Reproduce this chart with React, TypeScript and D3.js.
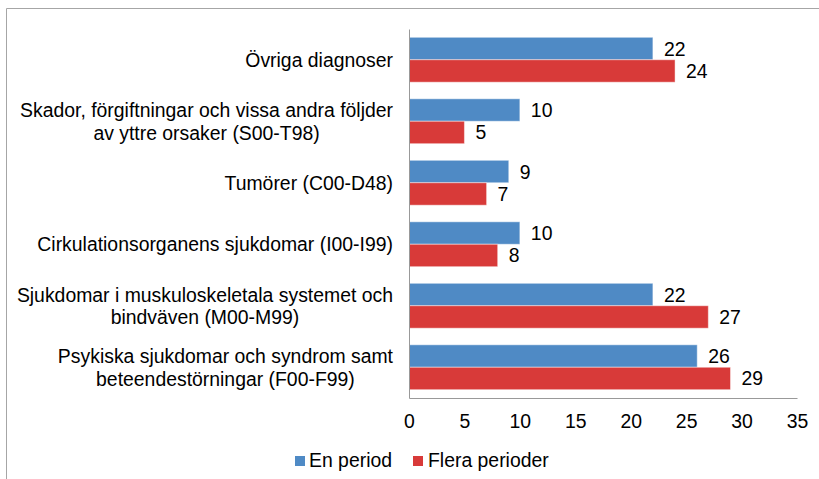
import React, { useRef, useEffect } from "react";
import * as d3 from "d3";

// kategorier uppifrån och ned, radbrytning med \n
const categories: string[] = [
  "Övriga diagnoser",
  "Skador, förgiftningar och vissa andra följder\nav yttre orsaker (S00-T98)",
  "Tumörer (C00-D48)",
  "Cirkulationsorganens sjukdomar (I00-I99)",
  "Sjukdomar i muskuloskeletala systemet och\nbindväven (M00-M99)",
  "Psykiska sjukdomar och syndrom samt\nbeteendestörningar (F00-F99)",
];
const seriesNames: string[] = ["En period", "Flera perioder"];
const enPeriod: number[] = [22, 10, 9, 10, 22, 26];
const fleraPerioder: number[] = [24, 5, 7, 8, 27, 29];
const xTicks: number[] = [0, 5, 10, 15, 20, 25, 30, 35];
const colors: string[] = ["#4f8ac5", "#d83a39"];

const W = 819;
const H = 479;
const FONT = "'Liberation Sans', Arial, sans-serif";
const FS = 19.4;

const App = () => {
  const ref = useRef<SVGSVGElement>(null);

  useEffect(() => {
    document.body.style.margin = "0";
    const svg = d3.select(ref.current);
    svg.selectAll("*").remove();

    const x = d3.scaleLinear().domain([0, 35]).range([409, 797]);
    const y = d3.scaleBand<string>()
      .domain(categories)
      .range([29, 398])
      .paddingInner(0.27)
      .paddingOuter(0.135);
    const y1 = d3.scaleBand<string>()
      .domain(seriesNames)
      .range([0, y.bandwidth()]);

    // ram
    svg.append("path")
      .attr("d", `M6.5,${H} V8.5 H${W}`)
      .attr("fill", "none")
      .attr("stroke", "#a6a6a6");

    const rows = categories.map((c, i) => ({ c, vals: [enPeriod[i], fleraPerioder[i]] }));

    // staplar
    const g = svg.append("g")
      .selectAll("g")
      .data(rows)
      .join("g")
      .attr("transform", d => `translate(0,${y(d.c)})`);

    g.selectAll("rect")
      .data(d => d.vals.map((v, k) => ({ v, k })))
      .join("rect")
      .attr("x", x(0))
      .attr("y", d => y1(seriesNames[d.k])!)
      .attr("width", d => x(d.v) - x(0))
      .attr("height", y1.bandwidth())
      .attr("fill", d => colors[d.k])
      .attr("stroke", "rgba(255,255,255,0.45)")
      .attr("stroke-width", 1);

    g.selectAll("text.val")
      .data(d => d.vals.map((v, k) => ({ v, k })))
      .join("text")
      .attr("class", "val")
      .attr("x", d => x(d.v) + 11)
      .attr("y", d => y1(seriesNames[d.k])! + y1.bandwidth() / 2 + 7)
      .attr("font-family", FONT)
      .attr("font-size", FS)
      .attr("fill", "#000")
      .text(d => d.v);

    // axlar
    const xAxis = svg.append("g")
      .attr("transform", `translate(0,398)`)
      .call(d3.axisBottom(x).tickValues(xTicks).tickSize(0).tickSizeOuter(0).tickPadding(16));
    xAxis.select(".domain").attr("stroke", "#999");
    xAxis.selectAll("text")
      .attr("font-family", FONT)
      .attr("font-size", FS)
      .attr("fill", "#000");

    const yAxis = svg.append("g")
      .attr("transform", `translate(409,0)`)
      .call(d3.axisLeft(y).tickSize(0).tickSizeOuter(0).tickFormat(() => ""));
    yAxis.select(".domain").attr("stroke", "#999");

    // kategorietiketter, blocket högerjusterat, raderna centrerade
    categories.forEach(c => {
      const lines = c.split("\n");
      const cy = y(c)! + y.bandwidth() / 2;
      const t = svg.append("g");
      const texts = lines.map((line, i) =>
        t.append("text")
          .attr("font-family", FONT)
          .attr("font-size", FS)
          .attr("fill", "#000")
          .attr("text-anchor", "middle")
          .attr("y", cy + 7 + (i - (lines.length - 1) / 2) * 22.5)
          .text(line)
      );
      const maxW = d3.max(texts, s => (s.node() as SVGTextElement).getComputedTextLength()) || 0;
      texts.forEach(s => s.attr("x", 393 - maxW / 2));
    });

    // förklaring
    const legendX = [295, 413];
    const lg = svg.append("g")
      .selectAll("g")
      .data(seriesNames)
      .join("g")
      .attr("transform", (d, i) => `translate(${legendX[i]},456)`);
    lg.append("rect")
      .attr("width", 10)
      .attr("height", 10)
      .attr("fill", (d, i) => colors[i]);
    lg.append("text")
      .attr("x", (d, i) => (i === 0 ? 14 : 15))
      .attr("y", 11)
      .attr("font-family", FONT)
      .attr("font-size", FS)
      .attr("fill", "#000")
      .text(d => d);
  }, []);

  return <svg ref={ref} width={W} height={H} style={{ display: "block", background: "#fff" }} />;
};

export default App;
